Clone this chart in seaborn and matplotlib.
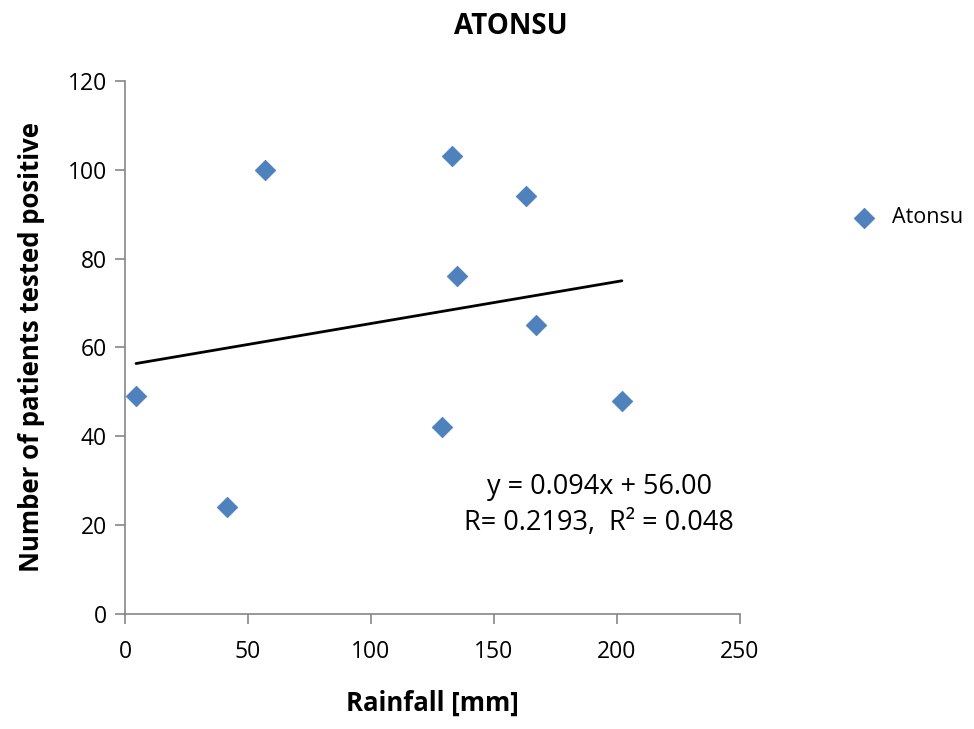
import pandas as pd
import matplotlib.pyplot as plt
import seaborn as sns

# rainfall vs positive cases, Atonsu
rainfall = [4.5, 41.5, 57, 133, 135, 129, 163, 167, 202]
positives = [49, 24, 100, 103, 76, 42, 94, 65, 48]
x_ticks = [0, 50, 100, 150, 200, 250]
y_ticks = [0, 20, 40, 60, 80, 100, 120]

df = pd.DataFrame({'rainfall': rainfall, 'positives': positives})

sns.set_style('white')
plt.rcParams['font.family'] = ['Open Sans', 'DejaVu Sans']
plt.rcParams['text.color'] = 'black'
plt.rcParams['axes.labelcolor'] = 'black'
plt.rcParams['xtick.color'] = 'black'
plt.rcParams['ytick.color'] = 'black'

fig = plt.figure(figsize=(9.74, 7.29), dpi=100)
ax = fig.add_axes([0.1283, 0.1578, 0.6314, 0.7311])

sns.scatterplot(data=df, x='rainfall', y='positives', marker='D', s=110,
                color='#4F81BD', edgecolor='#4A7EBB', linewidth=0.5,
                label='Atonsu', ax=ax, zorder=3)
sns.regplot(data=df, x='rainfall', y='positives', scatter=False, ci=None,
            truncate=True, line_kws={'color': 'black', 'linewidth': 2}, ax=ax)

ax.set_xlim(0, 250)
ax.set_ylim(0, 120)
ax.set_xticks(x_ticks)
ax.set_yticks(y_ticks)
ax.tick_params(axis='both', bottom=True, left=True, labelsize=16.5, length=7,
               width=1.2, color='#868686', labelcolor='black',
               direction='out', pad=6)
ax.tick_params(axis='x', pad=12)
for side in ['top', 'right']:
    ax.spines[side].set_visible(False)
for side in ['left', 'bottom']:
    ax.spines[side].set_color('#868686')
    ax.spines[side].set_linewidth(1.2)

ax.set_xlabel('Rainfall [mm]', fontsize=18.5, fontweight='bold', labelpad=18)
ax.set_ylabel('Number of patients tested positive', fontsize=18.5,
              fontweight='bold', labelpad=16)

fig.text(0.524, 0.963, 'ATONSU', fontsize=20, fontweight='bold',
         ha='center', va='center')

ax.text(0.771, 0.205, 'y = 0.094x + 56.00\nR= 0.2193,  R\u00b2 = 0.048',
        transform=ax.transAxes, fontsize=19.5, ha='center', va='center',
        linespacing=1.4)

ax.legend(loc='center left', bbox_to_anchor=(1.184, 0.743), frameon=False,
          fontsize=15.5, borderaxespad=0, borderpad=0, handlelength=1,
          handletextpad=0.8, markerscale=1.0)

fig.savefig('out.png', dpi=100)
